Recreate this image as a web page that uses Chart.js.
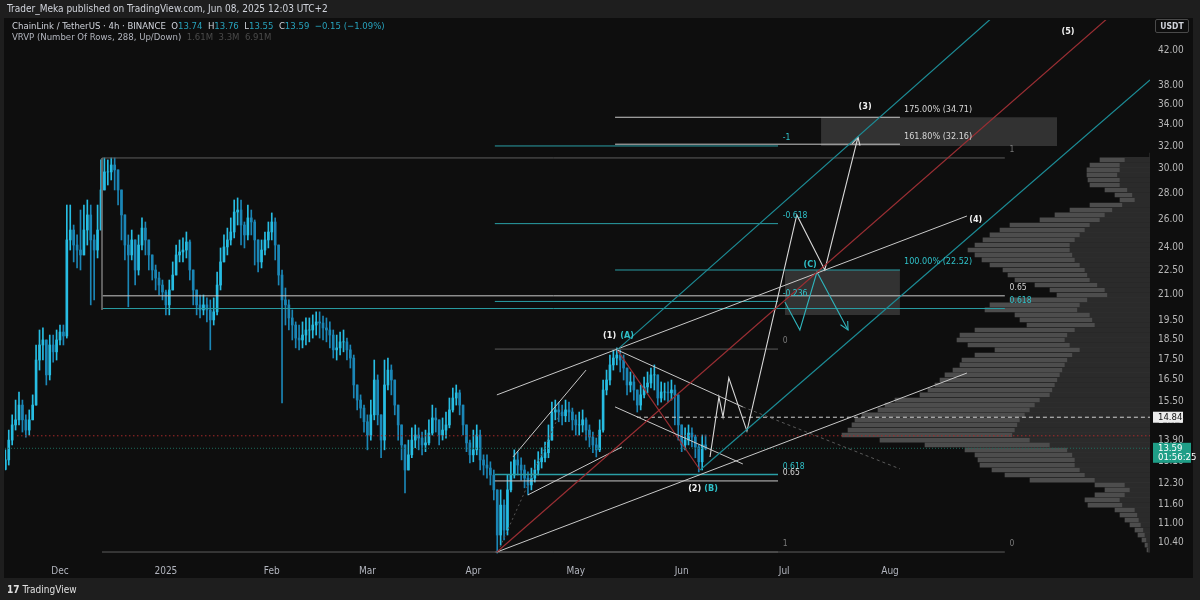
<!DOCTYPE html>
<html><head><meta charset="utf-8">
<script src="https://cdn.jsdelivr.net/npm/chart.js@4.4.1/dist/chart.umd.min.js"></script>
<style>
html,body{margin:0;padding:0;background:#1e1e1e;}
#wrap{position:relative;width:1200px;height:600px;overflow:hidden;}
canvas{position:absolute;left:0;top:0;}
.t{position:absolute;white-space:nowrap;font-family:"Liberation Sans Narrow","DejaVu Sans Condensed","Liberation Sans",Arial,sans-serif;}
.v{color:#27a2bc;}
</style></head><body>
<div id="wrap">
<canvas id="c" width="1200" height="600"></canvas>
<div class="t" style="left:7px;top:3px;font-size:10px;color:#d1d4dc">Trader_Meka published on TradingView.com, Jun 08, 2025 12:03 UTC+2</div>
<div class="t" style="left:12px;top:20px;font-size:9.5px;color:#d1d4dc">ChainLink / TetherUS · 4h · BINANCE&nbsp; O<span class="v">13.74</span>&nbsp; H<span class="v">13.76</span>&nbsp; L<span class="v">13.55</span>&nbsp; C<span class="v">13.59</span>&nbsp; <span class="v">−0.15 (−1.09%)</span></div>
<div class="t" style="left:12px;top:31px;font-size:9.5px;color:#b2b5be">VRVP (Number Of Rows, 288, Up/Down)&nbsp; <span style="color:#4a4a4a">1.61M&nbsp; 3.3M&nbsp; 6.91M</span></div>
<div class="t" style="left:1155px;top:19px;width:34px;height:14px;border:1px solid #4a4a4a;border-radius:2px;box-sizing:border-box;font-size:8.5px;font-weight:bold;color:#d1d4dc;text-align:center;line-height:12px;">USDT</div>
<div class="t" style="left:7px;top:584px;font-size:10px;color:#e0e0e0;"><b>17</b> TradingView</div>
</div>
<script>
// ---------- DATA ----------
const firstDay = -16; // day index relative to Dec 1, 2024 (daily candles, Nov 15 2024 .. Jun 8 2025)
const closes = [
13.15,13.91,14.52,14.73,15.36,14.73,14.31,14.73,15.36,17.45,
18.21,18.47,16.73,18.21,17.86,18.47,18.89,18.68,24.52,25.22,
24.17,23.83,23.50,25.22,26.32,24.52,23.83,25.22,28.25,29.73,
29.73,30.32,29.90,28.25,26.32,24.17,23.50,24.52,22.52,24.17,
25.36,24.52,23.50,22.52,22.01,21.58,21.16,20.40,21.28,22.20,
23.50,23.70,23.83,24.38,22.52,21.28,20.40,20.11,20.40,20.11,
19.55,20.00,21.58,23.04,24.04,24.52,25.08,26.54,26.69,25.58,
24.87,26.10,25.80,24.52,23.04,23.83,24.52,25.08,25.80,24.17,
22.20,20.69,20.40,19.66,19.27,18.57,18.47,18.73,19.00,19.00,
19.27,19.44,19.38,19.11,19.00,18.73,17.96,18.06,18.37,18.37,
17.96,17.55,16.26,15.58,15.23,14.65,14.11,14.94,16.49,14.94,
13.91,16.26,16.96,16.49,15.36,14.52,13.72,12.78,13.34,13.91,
14.11,13.99,13.72,13.80,14.19,14.81,14.73,14.11,14.31,14.52,
15.15,15.67,15.90,15.36,14.52,13.80,13.34,13.53,14.11,13.15,
12.96,12.85,12.60,12.08,10.63,11.57,10.78,12.08,12.60,13.15,
12.96,12.78,12.49,12.25,12.49,12.78,13.08,13.23,13.42,13.91,
15.06,15.15,15.06,14.90,15.15,15.06,14.73,14.52,14.52,14.73,
14.31,14.03,13.72,13.53,14.31,16.03,16.49,17.21,17.55,17.70,
17.45,17.06,16.26,16.40,16.03,15.36,15.81,16.17,16.35,16.73,
16.73,15.67,15.94,15.94,15.90,16.03,15.81,14.52,13.72,13.91,
14.19,14.03,13.64,13.08,13.72,13.59];
const highs = [
13.53,14.31,14.94,15.58,15.94,15.58,14.94,15.15,15.81,18.21,
19.00,19.11,18.47,18.73,18.73,19.00,19.27,19.27,27.07,27.07,
25.58,24.87,26.69,27.07,27.46,27.07,24.87,27.07,30.76,30.93,
30.76,30.93,30.93,29.48,27.85,25.58,24.87,25.22,24.52,24.87,
26.10,25.80,24.52,23.50,22.84,22.39,21.89,21.28,21.89,23.04,
24.17,24.52,24.66,25.08,24.52,22.52,21.28,20.98,20.98,20.81,
20.69,20.81,22.39,23.97,24.87,25.36,26.10,27.46,27.62,27.46,
25.80,27.07,26.69,25.95,24.17,24.52,25.08,25.80,26.47,26.10,
24.17,22.52,21.40,20.69,20.11,19.44,19.27,19.44,19.66,19.66,
19.83,20.00,20.00,19.77,19.66,19.44,19.00,18.73,18.89,19.00,
18.57,18.21,17.70,16.26,15.81,15.36,14.94,15.58,17.45,16.73,
14.94,17.45,17.55,17.21,16.26,15.36,14.52,13.72,13.91,14.40,
14.52,14.40,14.23,14.31,14.73,15.36,15.23,14.73,14.81,15.06,
15.67,16.12,16.26,16.03,15.36,14.52,13.91,14.31,14.52,14.31,
13.34,13.34,13.08,12.78,12.08,12.08,11.74,12.60,13.08,13.53,
13.46,13.23,12.96,12.71,12.85,13.15,13.46,13.61,13.83,14.52,
15.49,15.58,15.49,15.36,15.58,15.49,15.23,14.94,15.06,15.15,
14.81,14.52,14.23,13.99,14.73,16.49,16.96,17.70,17.96,18.06,
17.96,17.70,16.96,16.87,16.73,15.94,16.26,16.63,16.87,17.06,
17.21,16.49,16.40,16.35,16.40,16.49,16.26,15.15,14.31,14.40,
14.52,14.40,14.11,13.72,14.11,14.11];
const lows = [
12.78,12.96,13.72,14.31,14.52,14.23,14.03,14.11,14.73,15.36,
16.96,17.45,16.26,16.49,17.35,17.45,18.21,18.21,18.57,23.83,
23.04,22.65,22.52,24.17,24.17,20.40,20.69,23.30,26.32,28.65,
28.65,29.06,28.25,27.07,24.52,23.17,20.29,23.17,21.58,22.20,
23.83,23.50,22.52,21.89,21.28,20.98,20.69,19.83,19.83,21.28,
22.20,23.04,23.04,23.30,21.89,20.40,19.83,19.66,19.83,19.44,
17.96,19.27,19.83,21.28,23.04,23.50,24.17,24.66,25.58,24.17,
23.97,24.52,24.87,22.84,22.39,22.65,23.50,23.97,24.52,23.17,
21.58,15.45,19.27,19.00,18.47,18.06,17.96,18.06,18.21,18.37,
18.57,18.73,18.57,18.47,18.37,18.06,17.55,17.45,17.70,17.86,
17.45,17.06,15.67,15.15,14.81,14.23,13.53,13.91,14.73,14.52,
13.23,13.53,16.03,15.81,14.94,13.91,13.15,11.98,12.78,13.23,
13.61,13.53,13.34,13.46,13.72,14.11,14.23,13.72,13.91,13.99,
14.40,15.06,15.36,14.94,14.11,13.46,13.04,13.08,13.34,12.78,
12.60,12.49,12.25,11.74,10.10,10.33,10.48,10.63,12.01,12.49,
12.60,12.42,12.15,11.91,12.08,12.35,12.60,12.85,13.08,13.23,
13.91,14.73,14.65,14.52,14.65,14.65,14.31,14.11,14.11,14.23,
13.91,13.64,13.42,13.26,13.46,14.23,15.81,16.26,16.96,17.21,
16.87,16.49,15.81,15.94,15.58,15.06,15.15,15.67,15.90,16.12,
16.03,15.36,15.49,15.58,15.49,15.58,14.52,13.91,13.46,13.53,
13.72,13.64,13.23,12.71,12.78,13.53];
const firstOpen = 12.80;

// Visible-range volume profile rows (price level, total volume, down volume; thousands)
const vpPrices = [31.19,30.76,30.32,29.90,29.48,29.06,28.65,28.25,27.85,27.46,
27.07,26.69,26.32,25.95,25.58,25.22,24.87,24.52,24.17,23.83,
23.50,23.17,22.84,22.52,22.20,21.89,21.58,21.28,20.98,20.69,
20.40,20.11,19.83,19.55,19.27,19.00,18.73,18.47,18.21,17.96,
17.70,17.45,17.21,16.96,16.73,16.49,16.26,16.03,15.81,15.58,
15.36,15.15,14.94,14.73,14.52,14.31,14.11,13.91,13.72,13.53,
13.34,13.15,12.96,12.78,12.60,12.42,12.25,12.08,11.91,11.74,
11.57,11.41,11.25,11.09,10.94,10.78,10.63,10.48,10.33,10.19];
const vpTotal = [0,10,12,12.6,12.6,12.4,12,9,7,6,
12,16,19,22,28,30,32,33.4,35,36.4,
35,33.6,32,29.4,28.4,27,23,20,18.6,28,
32,33,27,26,24.6,35,38,38.6,36.4,31,
35,37.6,38,39.4,41,42,43,44.4,46,51,
53,54.4,57.6,59,59.6,60.4,61.6,54,45,37,
35,34.4,34,31.6,29,24,11,9,11,13,
12.4,7,6,5,4,3,2.4,1.6,1,0.6];
const vpDown = [0,5,6,6,6.5,6,6,4.5,3.5,3,
5.5,7.5,9,10,12,13,14,15,16,16,
15.5,15,14,13,12.5,12,10.5,9,8.5,12.5,
14,14.5,12,11.5,11,15,16.5,17,16,14,
15.5,16.5,17,17.5,18,18.5,19,19.5,20,22,
23,24,25,26,26.5,27,27.5,24,20,16.5,
15.5,15,15,14,13,11,5,4,5,6,
5.5,3,2.5,2.2,1.8,1.3,1,0.7,0.4,0.3];

// Axis ticks
const monthTickDays = [0,31,62,90,121,151,182,212,243];
const monthTickLabels = ['Dec','2025','Feb','Mar','Apr','May','Jun','Jul','Aug'];
const priceTicks = [42,38,36,34,32,30,28,26,24,22.5,21,19.5,18.5,17.5,16.5,15.5,14.7,13.9,13.1,12.3,11.6,11.0,10.4];

// Fibonacci retracement (Dec high -> Apr low)
const fibADays = [12.3, 276.6];
const fibAPrices = [30.93, 20.93, 20.19, 10.13];
const fibALabels = ['1','0.65','0.618','0'];
// Fibonacci retracement (Apr low -> May high) with extensions
const fibBDays = [127.3, 210.2];
const fibBPrices = [32.0, 25.68, 20.6, 18.0, 12.62, 12.39, 10.13];
const fibBLabels = ['-1','-0.618','-0.236','0','0.618','0.65','1'];
// Trend-based fib extension
const fibCDays = [162.5, 245.9];
const fibCPrices = [34.71, 32.16, 22.52];
const fibCLabels = ['175.00% (34.71)','161.80% (32.16)','100.00% (22.52)'];

// Target boxes [dayStart, dayEnd, top, bottom]
const box1 = [222.8, 291.9, 34.71, 32.0];
const box2 = [212.2, 245.9, 22.52, 19.83];

// Trend lines [day, price]
const channelTealUpper = [[163.1,17.96],[272.8,45.99]];
const channelRed = [[127.9,10.13],[306.8,45.99]];
const channelTealLower = [[187.4,12.78],[319.1,38.58]];
const wedgeUpper = [[127.9,15.81],[265.5,26.24]];
const wedgeLower = [[127.9,10.13],[265.5,16.82]];
const aprChUpper = [[132.6,13.26],[154.0,16.96]];
const aprChLower = [[137.0,11.91],[164.5,13.64]];
const aprDotted = [[128.8,10.27],[147.2,15.28]];
const mayChUpper = [[163.1,17.96],[199.9,15.28]];
const mayChLower = [[162.5,15.28],[199.9,13.00]];
const mayDashed = [[199.9,15.28],[245.9,12.82]];
const redDown = [[163.1,17.96],[187.4,12.78]];
const fibAStem = [[12.3,30.93],[12.3,20.11]];
const pathWhite = [[190.3,13.26],[192.9,15.72],[194.1,14.86],[195.8,16.59],[201.1,14.27],[215.7,26.32],[223.9,22.52],[233.6,32.82]];
const arrowWhite = [[234.2,32.02],[233.6,32.82],[231.9,32.20]];
const pathTeal = [[212.2,20.57],[216.6,19.00],[221.6,22.39],[230.7,19.00]];
const arrowTeal = [[228.5,19.28],[230.7,19.00],[230.6,19.49]];
const redDotted = [[-12.6,14.08],[319.1,14.08]];
const lastPriceLine = [[-16.1,13.59],[319.1,13.59]];
const markPriceLine = [[168.9,14.84],[319.1,14.84]];

// Wave labels [text, day, price, colorKey]
const waveLabels = [['(1)',160.9,18.68,'w'],['(A)',166.0,18.68,'t'],['(2)',185.8,12.11,'w'],['(B)',190.6,12.11,'t'],
['(3)',235.7,35.74,'w'],['(4)',268.1,25.99,'w'],['(5)',295.1,44.2,'w'],['(C)',219.6,22.84,'t']];

// ---------- STYLE ----------
const TEAL = '#2a9fa6', TEALTXT = '#2fc0c8', WHITE = '#c9c9c9', GRAY = '#5d5d5d', CH = '#1c8c96', RED = '#9a2e33';
const UP = '#27bde3', DOWN = '#1b86b6';
const FONT = '"Liberation Sans Narrow","DejaVu Sans Condensed","Liberation Sans",Arial,sans-serif';

// ---------- BUILD ----------
const days = closes.map((c,i)=>firstDay+i);
const opens = closes.map((c,i)=> i===0 ? firstOpen : closes[i-1]);
const hi = highs.map((h,i)=>Math.max(h, opens[i], closes[i]));
const lo = lows.map((l,i)=>Math.min(l, opens[i], closes[i]));
const candleColors = closes.map((c,i)=> c>=opens[i] ? UP : DOWN);

function line(pts, color, width, dash, order){
  return {type:'line', data: pts.map(p=>({x:p[0], y:p[1]})), borderColor: color, borderWidth: width||1,
    borderDash: dash||[], pointRadius:0, pointHoverRadius:0, fill:false, tension:0, order: order||10,
    xAxisID:'x', yAxisID:'y'};
}
function box(b, color){
  return {type:'line', data:[{x:b[0],y:b[2]},{x:b[1],y:b[2]}], borderWidth:0, borderColor:'rgba(0,0,0,0)',
    backgroundColor: color, fill:{value:b[3]}, pointRadius:0, order:90, xAxisID:'x', yAxisID:'y'};
}
function fibColor(lbl){
  if (lbl==='0.65' || lbl.indexOf('161')===0 || lbl.indexOf('175')===0) return WHITE;
  if (lbl==='0' || lbl==='1') return GRAY;
  return TEAL;
}

const datasets = [];
datasets.push({type:'bar', indexAxis:'y', xAxisID:'xv', yAxisID:'y', grouped:false, order:101, borderWidth:0,
  data: vpPrices.map((p,i)=>({y:p, x:vpTotal[i]})), backgroundColor:'#4d4d4d', barThickness:4});
datasets.push({type:'bar', indexAxis:'y', xAxisID:'xv', yAxisID:'y', grouped:false, order:100, borderWidth:0,
  data: vpPrices.map((p,i)=>({y:p, x:vpDown[i]})), backgroundColor:'#2b2b2b', barThickness:4});
datasets.push(box(box1,'rgba(125,125,125,0.33)'));
datasets.push(box(box2,'rgba(125,125,125,0.33)'));
datasets.push({type:'bar', xAxisID:'x', yAxisID:'y', grouped:false, order:51, borderWidth:0, barThickness:1,
  data: days.map((d,i)=>({x:d, y:[lo[i], hi[i]]})), backgroundColor: candleColors});
datasets.push({type:'bar', xAxisID:'x', yAxisID:'y', grouped:false, order:50, borderWidth:0, barThickness:2,
  data: days.map((d,i)=>({x:d, y:[opens[i], closes[i]]})), backgroundColor: candleColors});

fibAPrices.forEach((p,i)=>datasets.push(line([[fibADays[0],p],[fibADays[1],p]], fibColor(fibALabels[i]), 1, [], 20)));
fibBPrices.forEach((p,i)=>datasets.push(line([[fibBDays[0],p],[fibBDays[1],p]], fibColor(fibBLabels[i]), fibBLabels[i]==='0.618'?1.6:1, [], 20)));
fibCPrices.forEach((p,i)=>datasets.push(line([[fibCDays[0],p],[fibCDays[1],p]], fibColor(fibCLabels[i]), 1, [], 19)));

datasets.push(line(redDotted, '#a52a2a', 1, [1.5,2.5], 30));
datasets.push(line(lastPriceLine, '#1d6b5c', 1, [1,2], 30));
datasets.push(line(markPriceLine, '#d0d0d0', 1, [4,3], 30));
datasets.push(line(fibAStem, '#6a6a6a', 1));
datasets.push(line(channelTealUpper, CH, 1.2));
datasets.push(line(channelRed, RED, 1.2));
datasets.push(line(channelTealLower, CH, 1.2));
datasets.push(line(wedgeUpper, WHITE, 1));
datasets.push(line(wedgeLower, WHITE, 1));
datasets.push(line(aprChUpper, WHITE, 1));
datasets.push(line(aprChLower, WHITE, 1));
datasets.push(line(aprDotted, '#555555', 1, [2,3]));
datasets.push(line(mayChUpper, WHITE, 1));
datasets.push(line(mayChLower, WHITE, 1));
datasets.push(line(mayDashed, '#5a5a5a', 1, [3,3]));
datasets.push(line(redDown, RED, 1.2));
datasets.push(line(pathWhite, '#d8d8d8', 1.1));
datasets.push(line(arrowWhite, '#d8d8d8', 1.1));
datasets.push(line(pathTeal, '#2fb3bb', 1.1));
datasets.push(line(arrowTeal, '#2fb3bb', 1.1));

const bgPlugin = {id:'bg', beforeDraw(chart){
  const c = chart.ctx; c.save();
  c.fillStyle = '#1e1e1e'; c.fillRect(0,0,1200,600);
  c.fillStyle = '#0e0e0e'; c.fillRect(4,18,1189,560);
  c.restore();
}};
const textPlugin = {id:'txt', afterDatasetsDraw(chart){
  const c = chart.ctx, xs = chart.scales.x, ys = chart.scales.y;
  c.save();
  c.textBaseline = 'middle';
  c.font = '8.5px ' + FONT;
  c.textAlign = 'left';
  const drawFib = (labels, prices, day, colorFn) => {
    labels.forEach((l,i)=>{
      c.fillStyle = colorFn(l);
      c.fillText(l, xs.getPixelForValue(day), ys.getPixelForValue(prices[i]) - 8);
    });
  };
  const txtColor = l => { const col = fibColor(l); return col===TEAL ? TEALTXT : (col===GRAY ? '#7a7a7a' : '#d6d6d6'); };
  drawFib(fibALabels, fibAPrices, 278.0, txtColor);
  drawFib(fibBLabels, fibBPrices, 211.6, txtColor);
  c.font = '9px ' + FONT;
  drawFib(fibCLabels, fibCPrices, 247.1, txtColor);
  c.font = 'bold 9px ' + FONT;
  c.textAlign = 'center';
  waveLabels.forEach(w=>{
    c.fillStyle = w[3]==='t' ? TEALTXT : '#f0f0f0';
    c.fillText(w[0], xs.getPixelForValue(w[1]), ys.getPixelForValue(w[2]));
  });
  c.restore();
}};
const axisBoxPlugin = {id:'axbox', afterDraw(chart){
  const c = chart.ctx, ys = chart.scales.y;
  c.save();
  c.textBaseline = 'middle'; c.textAlign = 'left';
  let py = ys.getPixelForValue(14.84);
  c.fillStyle = '#ececec'; c.fillRect(1153, py-5.5, 30, 11);
  c.fillStyle = '#111'; c.font = '9.5px ' + FONT; c.fillText('14.84', 1158, py);
  py = ys.getPixelForValue(13.59);
  c.fillStyle = '#1f9e87'; c.fillRect(1153, py-5.5, 38, 20);
  c.fillStyle = '#ffffff'; c.fillText('13.59', 1158, py);
  c.fillText('01:56:25', 1158, py+9);
  c.restore();
}};

new Chart(document.getElementById('c'), {
  type:'bar',
  data:{datasets},
  options:{
    responsive:false, animation:false, events:[],
    layout:{padding:{left:5,right:0,top:20,bottom:20}},
    plugins:{legend:{display:false}, tooltip:{enabled:false}},
    scales:{
      x:{type:'linear', min:-16.1, max:319.1, bounds:'data', offset:false,
        grid:{display:false, drawTicks:false}, border:{display:false},
        ticks:{color:'#b2b5be', font:{family:FONT, size:10}, maxRotation:0, autoSkip:false, padding:7,
          callback:(v)=>{const i = monthTickDays.indexOf(v); return i>=0 ? monthTickLabels[i] : '';}},
        afterBuildTicks:(s)=>{ s.ticks = monthTickDays.map(v=>({value:v})); },
        afterFit:(s)=>{ s.height = 22; }},
      y:{type:'logarithmic', position:'right', min:9.96, max:45.72, bounds:'data', offset:false,
        grid:{display:false, drawTicks:false}, border:{display:false},
        ticks:{color:'#b8b8b8', font:{family:FONT, size:10}, padding:8, autoSkip:false,
          callback:(v)=>Number(v).toFixed(2)},
        afterBuildTicks:(s)=>{ s.ticks = priceTicks.map(v=>({value:v})); },
        afterFit:(s)=>{ s.width = 50; }},
      xv:{type:'linear', axis:'x', display:false, min:0, max:229, reverse:true, offset:false, bounds:'data'}
    }
  },
  plugins:[bgPlugin, textPlugin, axisBoxPlugin]
});
</script>
</body></html>
